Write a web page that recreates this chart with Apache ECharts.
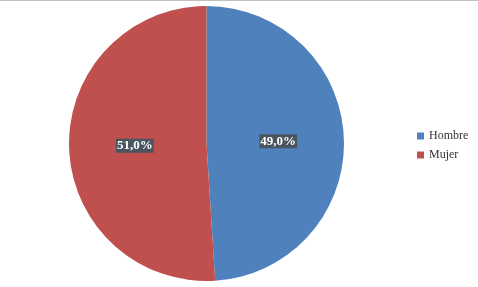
<!DOCTYPE html>
<html><head><meta charset="utf-8">
<script src="https://cdn.jsdelivr.net/npm/echarts@6/dist/echarts.min.js"></script>
<style>html,body{margin:0;padding:0;background:#fff}#c{width:478px;height:287px}</style>
</head><body><div id="c"></div>
<script>
const categories = ['Hombre', 'Mujer'];
const values = [49.0, 51.0];
const colors = ['#4F81BD', '#C0504D'];

const chart = echarts.init(document.getElementById('c'));
chart.setOption({
  animation: false,
  graphic: [{type: 'line', shape: {x1: 0, y1: 0.5, x2: 478, y2: 0.5}, style: {stroke: '#c0c0c0', lineWidth: 1}}],
  legend: {
    orient: 'vertical', left: 412, top: 125,
    itemWidth: 7, itemHeight: 7, itemGap: 7,
    icon: 'rect',
    textStyle: {fontFamily: 'Liberation Serif', fontSize: 12, color: '#333'},
    data: categories
  },
  series: [{
    type: 'pie',
    center: [206.5, 143.5],
    radius: 137.5,
    startAngle: 90,
    clockwise: true,
    data: categories.map((c, i) => ({name: c, value: values[i], itemStyle: {color: colors[i]}})),
    itemStyle: {borderColor: '#fff', borderWidth: 0},
    label: {
      position: 'inside',
      formatter: p => p.value.toFixed(1).replace('.', ',') + '%',
      fontFamily: 'Liberation Serif', fontWeight: 'bold', fontSize: 13,
      color: '#fff', backgroundColor: '#4a5560', padding: [1, 1, 0, 1]
    },
    labelLine: {show: false}
  }]
});
</script></body></html>
